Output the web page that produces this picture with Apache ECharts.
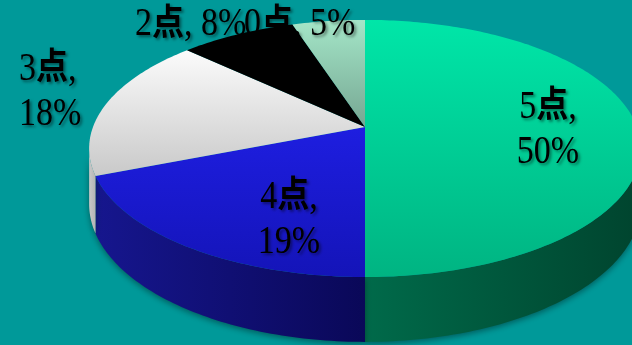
<!DOCTYPE html>
<html>
<head>
<meta charset="utf-8">
<script src="https://cdn.jsdelivr.net/npm/echarts@6/dist/echarts.min.js"></script>
<style>
  html, body { margin: 0; padding: 0; background: #009999; }
  #chart { width: 632px; height: 345px; }
</style>
</head>
<body>
<div id="chart"></div>
<script>
// Score distribution
const categories = ['5点', '4点', '3点', '2点', '0点'];
const shares = [50, 19, 18, 8, 5];
const labelTexts = ['5点,\n50%', '4点,\n19%', '3点,\n18%', '2点, 8%', '0点, 5%'];

// Disc geometry: centre, radii, perspective factor, rim height
const GEO = { cx: 365, cy: 127, rx: 272, ry: 125, k: 0.167, depth: 54 };

// Fill colours: top face [upper, lower], rim [left, right]
const TOP_COLORS = [
  ['#00e6a8', '#00b482'],
  ['#1e1ee0', '#1414b8'],
  ['#fbfbfb', '#c9c9c9'],
  ['#000000', '#000000'],
  ['#a4e6c8', '#76a692']
];
const SIDE_COLORS = [
  ['#006a4a', '#00442e'],
  ['#16168e', '#0a0858'],
  ['#c8c8c8', '#b4b4b4'],
  ['#111111', '#000000'],
  ['#6a9a88', '#5a8878']
];
// Label anchors
const LABEL_LAYOUT = [
  { x: 548, y: 130, align: 'center' },
  { x: 289, y: 220, align: 'center' },
  { x: 19,  y: 92,  align: 'left' },
  { x: 135, y: 25,  align: 'left' },
  { x: 244, y: 25,  align: 'left' }
];

const total = shares.reduce((a, b) => a + b, 0);
function startAngle(i) {
  let s = 0;
  for (let j = 0; j < i; j++) s += shares[j];
  return s / total * 360;
}
// angle in degrees, clockwise from 12 o'clock; r as fraction of radius
function proj(theta, r) {
  const t = theta * Math.PI / 180;
  const u = r * Math.sin(t), v = r * Math.cos(t);
  const s = 1 / (1 + GEO.k * v);
  return [GEO.cx + GEO.rx * u * s, GEO.cy - GEO.ry * v * s, s];
}
function arc(a0, a1) {
  const n = Math.max(2, Math.ceil(Math.abs(a1 - a0)));
  const pts = [];
  for (let i = 0; i <= n; i++) pts.push(proj(a0 + (a1 - a0) * i / n, 1));
  return pts;
}
const G = echarts.graphic;
// rim is visible where the outward normal faces the viewer
const RIM_FROM = Math.acos(-GEO.k) * 180 / Math.PI;
const RIM_TO = 360 - RIM_FROM;

function renderSide(params, api) {
  const i = params.dataIndex;
  const a0 = startAngle(i), a1 = a0 + api.value(0) / total * 360;
  const b0 = Math.max(a0, RIM_FROM), b1 = Math.min(a1, RIM_TO);
  if (b1 <= b0) return { type: 'group', children: [] };
  const top = arc(b0, b1);
  const pts = top.map(p => [p[0], p[1]]);
  for (let j = top.length - 1; j >= 0; j--) {
    pts.push([top[j][0], top[j][1] + GEO.depth * top[j][2]]);
  }
  return {
    type: 'polygon',
    shape: { points: pts },
    style: {
      fill: new G.LinearGradient(0, 0, 1, 0, [
        { offset: 0, color: SIDE_COLORS[i][0] },
        { offset: 1, color: SIDE_COLORS[i][1] }
      ]),
      stroke: null,
      shadowBlur: 6,
      shadowColor: 'rgba(0,40,40,0.55)',
      shadowOffsetY: 2
    }
  };
}

function renderTop(params, api) {
  const i = params.dataIndex;
  const a0 = startAngle(i), a1 = a0 + api.value(0) / total * 360;
  const c = proj(0, 0);
  const pts = [[c[0], c[1]]].concat(arc(a0, a1).map(p => [p[0], p[1]]));
  return {
    type: 'polygon',
    shape: { points: pts },
    style: {
      fill: new G.LinearGradient(0, 0, 0, 1, [
        { offset: 0, color: TOP_COLORS[i][0] },
        { offset: 1, color: TOP_COLORS[i][1] }
      ]),
      stroke: null
    }
  };
}

const LABEL_FONT = '"Liberation Serif", "Noto Sans CJK SC", serif';
function renderLabel(params) {
  const i = params.dataIndex;
  const L = LABEL_LAYOUT[i];
  return {
    type: 'text',
    x: L.x,
    y: L.y,
    scaleY: 1.15,
    style: {
      text: labelTexts[i].replace('点', '{c|点}'),
      fill: '#000',
      fontSize: 34,
      fontFamily: LABEL_FONT,
      align: L.align,
      verticalAlign: 'middle',
      lineHeight: 39,
      rich: {
        c: { fontSize: 32, fontWeight: 'bold', fontFamily: LABEL_FONT, lineHeight: 39,
             fill: '#000', textShadowColor: 'rgba(0,0,0,0.45)', textShadowBlur: 3,
             textShadowOffsetX: 2, textShadowOffsetY: 2 }
      },
      textShadowColor: 'rgba(0,0,0,0.45)',
      textShadowBlur: 3,
      textShadowOffsetX: 2,
      textShadowOffsetY: 2
    }
  };
}

const chart = echarts.init(document.getElementById('chart'), null, { renderer: 'canvas' });
chart.setOption({
  backgroundColor: '#009999',
  animation: false,
  series: [
    { type: 'custom', name: '侧面', coordinateSystem: 'none', z: 1, data: shares, renderItem: renderSide },
    { type: 'custom', name: categories.join('/'), coordinateSystem: 'none', z: 2, data: shares, renderItem: renderTop },
    { type: 'custom', name: '标签', coordinateSystem: 'none', z: 3, data: shares, renderItem: renderLabel }
  ]
});
</script>
</body>
</html>
